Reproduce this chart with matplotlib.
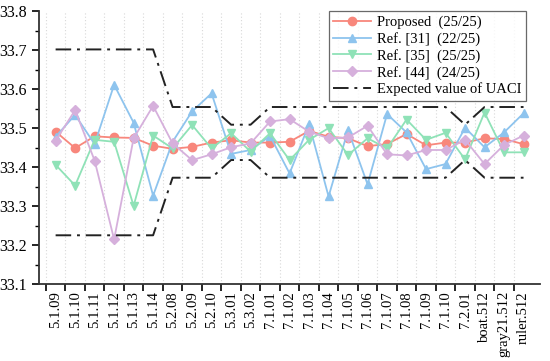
import numpy as np
import matplotlib
matplotlib.use("Agg")
import matplotlib.pyplot as plt

plt.rcParams['font.family'] = ['Liberation Serif', 'DejaVu Serif']

imagenes = ["5.1.09", "5.1.10", "5.1.11", "5.1.12", "5.1.13", "5.1.14",
            "5.2.08", "5.2.09", "5.2.10", "5.3.01", "5.3.02",
            "7.1.01", "7.1.02", "7.1.03", "7.1.04", "7.1.05", "7.1.06",
            "7.1.07", "7.1.08", "7.1.09", "7.1.10", "7.2.01",
            "boat.512", "gray21.512", "ruler.512"]

propuesto = [33.491, 33.449, 33.479, 33.476, 33.475, 33.455, 33.447, 33.452,
             33.463, 33.469, 33.463, 33.463, 33.465, 33.493, 33.478, 33.474,
             33.454, 33.459, 33.485, 33.456, 33.463, 33.463, 33.474, 33.472,
             33.459]
ref31 = [33.478, 33.534, 33.459, 33.611, 33.514, 33.327, 33.465, 33.543,
         33.589, 33.434, 33.444, 33.480, 33.384, 33.510, 33.325, 33.495,
         33.356, 33.536, 33.489, 33.395, 33.408, 33.501, 33.451, 33.489,
         33.538]
ref35 = [33.406, 33.353, 33.470, 33.465, 33.301, 33.481, 33.448, 33.508,
         33.448, 33.487, 33.440, 33.487, 33.418, 33.470, 33.500, 33.431,
         33.474, 33.448, 33.522, 33.470, 33.488, 33.420, 33.540, 33.438,
         33.438]
ref44 = [33.468, 33.546, 33.417, 33.215, 33.474, 33.557, 33.461, 33.418,
         33.433, 33.451, 33.461, 33.517, 33.523, 33.491, 33.474, 33.476,
         33.506, 33.433, 33.430, 33.444, 33.444, 33.470, 33.408, 33.457,
         33.481]

# valores criticos de UACI segun el tamano de la imagen
uaci_sup = [33.7016]*6 + [33.5541]*3 + [33.5088]*2 + [33.5541]*10 + [33.5088] + [33.5541]*3
uaci_inf = [33.2255]*6 + [33.3730]*3 + [33.4183]*2 + [33.3730]*10 + [33.4183] + [33.3730]*3

x = np.arange(len(imagenes))

fig = plt.figure(figsize=(5.5, 3.61), dpi=100)
ax = fig.add_axes([0.071, 0.2125, 0.911, 0.757])

kw = dict(linewidth=1.3, markersize=6)
ax.plot(x, propuesto, color="#F8877C", marker="o", label="Proposed  (25/25)", **kw)
ax.plot(x, ref31, color="#8EC4EE", marker="^", label="Ref. [31]  (22/25)", **kw)
ax.plot(x, ref35, color="#8FE2B7", marker="v", label="Ref. [35]  (25/25)", **kw)
ax.plot(x, ref44, color="#D6B0DC", marker="D", markersize=5, linewidth=1.3,
        label="Ref. [44]  (24/25)")
ax.plot(x, uaci_sup, color="#222222", linestyle=(0, (8, 3, 1.5, 3)), linewidth=1.4,
        label="Expected value of UACI")
ax.plot(x, uaci_inf, color="#222222", linestyle=(0, (8, 3, 1.5, 3)), linewidth=1.4)

ax.set_xlim(-0.85, 24.85)
ax.set_ylim(33.1, 33.8)
ax.set_yticks(np.arange(33.1, 33.81, 0.1))
ax.set_yticks(np.arange(33.15, 33.8, 0.1), minor=True)
ax.set_yticklabels(["%.1f" % v for v in np.arange(33.1, 33.81, 0.1)], fontsize=11.5)

ax.set_xticks(x - 0.5)
ax.set_xticks(x, minor=True)
ax.set_xticklabels([])
ax.set_xticklabels(imagenes, minor=True, rotation=90, fontsize=10.5)
ax.tick_params(axis="x", which="minor", length=0, pad=5)
ax.tick_params(axis="x", which="major", length=5, width=1.2, direction="out")
ax.tick_params(axis="y", which="major", length=5, width=1.2, direction="out")
ax.tick_params(axis="y", which="minor", length=3, width=1.0, direction="out")

ax.xaxis.grid(True, which="major", linestyle=(0, (1, 2)), color="#D8D8D8", linewidth=0.8)
ax.set_axisbelow(True)

ax.spines["top"].set_visible(False)
ax.spines["right"].set_visible(False)
ax.spines["left"].set_linewidth(1.3)
ax.spines["bottom"].set_linewidth(1.3)
ax.spines["left"].set_color("#333333")
ax.spines["bottom"].set_color("#333333")

leg = ax.legend(loc="upper right", bbox_to_anchor=(0.975, 1.005), fontsize=10.5,
                frameon=True, fancybox=False, edgecolor="#444444",
                handlelength=2.6, handletextpad=0.4, borderpad=0.3,
                labelspacing=0.2, borderaxespad=0.1)
leg.get_frame().set_linewidth(0.9)

fig.savefig("out.png", dpi=100)
